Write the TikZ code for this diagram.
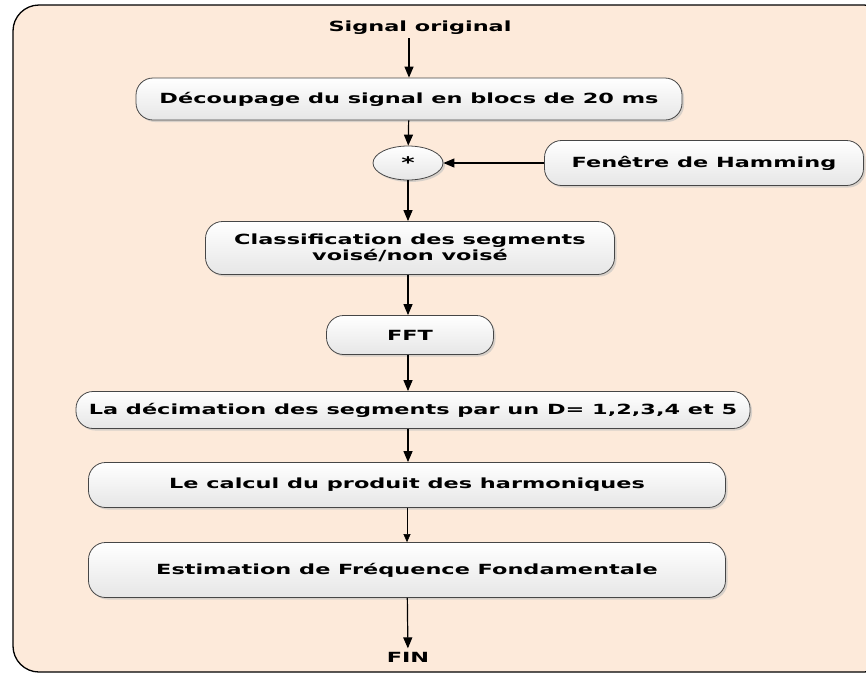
\documentclass[tikz,border=0pt]{standalone}
\usepackage{fontspec}
\setmainfont{DejaVu Sans}[FakeStretch=1.6]
\usetikzlibrary{arrows.meta,shadows,shapes.geometric}
\definecolor{peach}{RGB}{253,234,218}
\definecolor{boxline}{RGB}{70,70,70}
\definecolor{boxtop}{RGB}{255,255,255}
\definecolor{boxbot}{RGB}{230,230,230}
\tikzset{
  boxshadow/.style={drop shadow={shadow xshift=2pt, shadow yshift=-2pt, fill=black!25, opacity=0.6}},
  rbox/.style={rectangle, rounded corners=17pt, draw=boxline, line width=0.8pt,
    top color=boxtop, bottom color=boxbot, align=center,
    font=\fontsize{14}{16}\selectfont\bfseries, inner sep=0pt, boxshadow},
  plain/.style={font=\fontsize{14}{16}\selectfont\bfseries},
  flow/.style={-{Triangle[length=11pt,width=9pt]}, line width=1.2pt, black},
  thinflow/.style={-{Triangle[length=8pt,width=7pt]}, line width=0.6pt, black}
}
\begin{document}
\begin{tikzpicture}[x=1pt,y=-1pt]
\useasboundingbox (0,0) rectangle (866,673);
% background frame
\begin{scope}
\clip (0,0) rectangle (866,673);
\draw[fill=peach, line width=1.3pt, rounded corners=26pt] (13,5) rectangle (890,672);
\end{scope}

\node[plain] (sig) at (420,28) {Signal original};
\node[rbox, minimum width=546pt, minimum height=42pt] (dec) at (409,99) {Découpage du signal en blocs de 20 ms};
\node[ellipse, draw=boxline, line width=0.8pt, top color=boxtop, bottom color=boxbot,
      minimum width=70pt, minimum height=34pt, inner sep=0pt,
      font=\fontsize{16}{16}\selectfont\bfseries, boxshadow] (mul) at (408,163) {*};
\node[rbox, minimum width=319pt, minimum height=45pt] (ham) at (704,163) {Fenêtre de Hamming};
\node[rbox, minimum width=409pt, minimum height=53pt] (cls) at (410,248) {Classification des segments\\voisé/non voisé};
\node[rbox, minimum width=167pt, minimum height=39pt] (fft) at (410,335) {FFT};
\node[rbox, minimum width=674pt, minimum height=37pt] (dcm) at (413,410) {La décimation des segments par un D= 1,2,3,4 et 5};
\node[rbox, minimum width=637pt, minimum height=45pt] (cal) at (407,485) {Le calcul du produit des harmoniques};
\node[rbox, minimum width=637pt, minimum height=55pt] (est) at (407,570) {Estimation de Fréquence Fondamentale};
\node[plain] (fin) at (408,657) {FIN};

\draw[flow] (sig.south -| dec.north) -- (dec.north);
\draw[flow] (dec) -- (mul);
\draw[flow] (ham) -- (mul);
\draw[flow] (mul) -- (cls.north -| mul);
\draw[flow] (cls.south -| mul) -- (fft.north -| mul);
\draw[flow] (fft.south -| mul) -- (dcm.north -| mul);
\draw[flow] (dcm.south -| mul) -- (cal.north -| mul);
\draw[thinflow] (cal) -- (est);
\draw[flow] (est) -- (fin);
\end{tikzpicture}
\end{document}
